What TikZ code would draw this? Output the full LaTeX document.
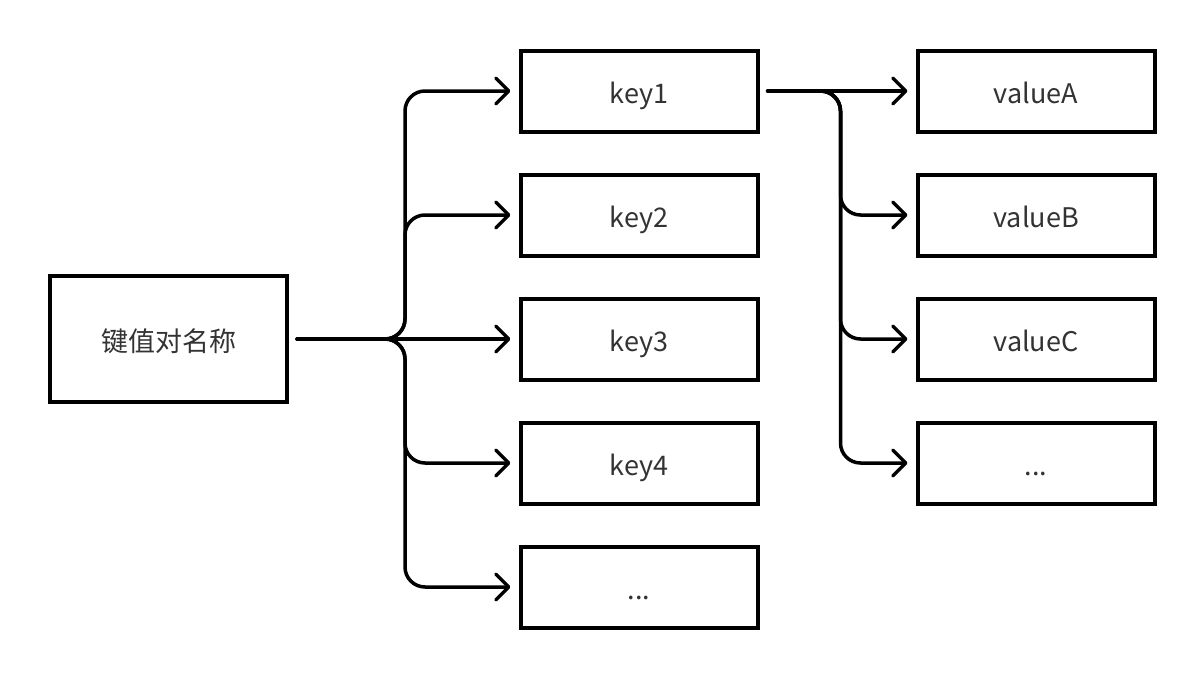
\documentclass[tikz,border=0pt]{standalone}
\usepackage{fontspec}
\setmainfont{Noto Sans CJK SC}
\usetikzlibrary{arrows.meta}
\definecolor{txt}{HTML}{333333}
\tikzset{
  box/.style={draw=black, line width=4pt, fill=white, minimum width=237pt, minimum height=81pt, inner sep=0pt, text=txt, text height=25pt, text depth=0pt, font=\fontsize{27}{32}\selectfont},
  bigbox/.style={box, minimum height=126pt},
  conn/.style={line width=3.5pt, rounded corners=20pt, line cap=round, line join=round,
    -{Straight Barb[length=13pt,width=26pt,line cap=round,line join=round]}},
}
\begin{document}
\begin{tikzpicture}[x=1pt,y=-1pt]
\useasboundingbox (0,0) rectangle (1204,680);
\node[bigbox] (L) at (168.5,339) {键值对名称};
\node[box] (k1) at (639,91) {key1};
\node[box] (k2) at (639,215) {key2};
\node[box] (k3) at (639,339) {key3};
\node[box] (k4) at (639,463) {key4};
\node[box] (k5) at (639,587) {...};
\node[box] (v1) at (1036,91) {valueA};
\node[box] (v2) at (1036,215) {valueB};
\node[box] (v3) at (1036,339) {valueC};
\node[box] (v4) at (1036,463) {...};
\foreach \k in {k1,k2,k4,k5}{
  \draw[conn] ([xshift=8pt]L.east) -- ++(108,0) |- ([xshift=-8pt]\k.west);
}
\draw[conn] ([xshift=8pt]L.east) -- ([xshift=-8pt]k3.west);
\draw[conn] ([xshift=8pt]k1.east) -- ([xshift=-8pt]v1.west);
\foreach \v in {v2,v3,v4}{
  \draw[conn] ([xshift=8pt]k1.east) -- ++(73,0) |- ([xshift=-8pt]\v.west);
}
\end{tikzpicture}
\end{document}
